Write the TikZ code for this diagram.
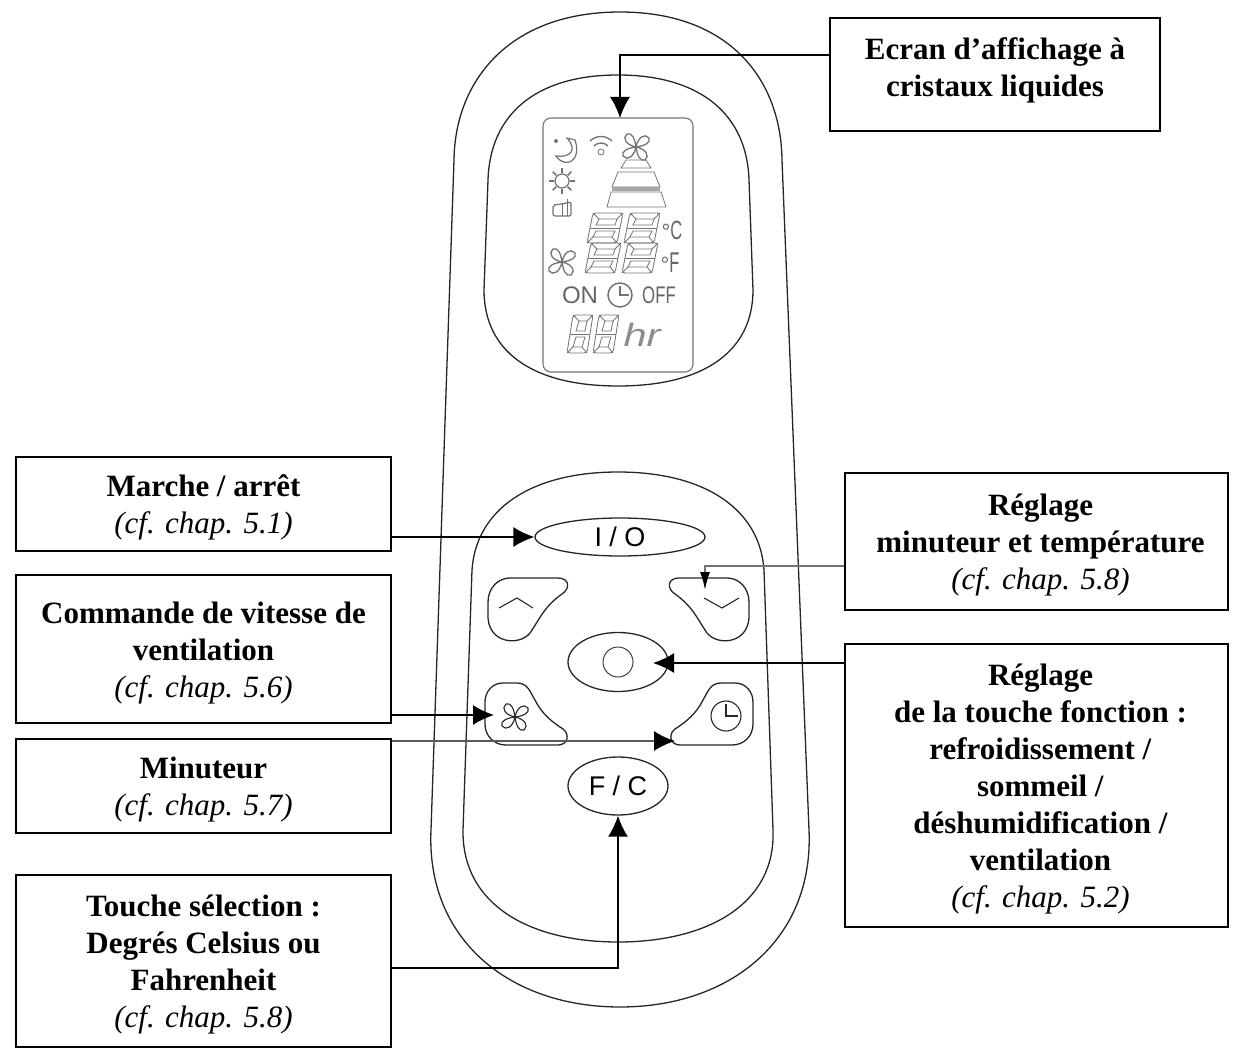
\documentclass[tikz,border=0pt]{standalone}
\usepackage{fontspec}
\setmainfont{Liberation Serif}
\newfontfamily\keyfont{Liberation Sans}
\usetikzlibrary{arrows.meta,shapes.geometric}
\newcommand{\rline}{\hspace*{8pt}}
\newcommand{\topline}{\rule{0pt}{29pt}}
\tikzset{
	>=latex,
	x=1pt,
	y=-1pt,
	shell/.style = {draw=black!85, line width=1.3pt},
	labelbox/.style = {
			draw,
			line width=1.2pt,
			inner sep=0pt,
			align=center,
			font=\fontsize{31}{37}\selectfont,
		},
	keyoval/.style = {
			ellipse,
			draw=black!85,
			line width=1.3pt,
			inner sep=0pt,
			font=\keyfont\fontsize{27}{27}\selectfont,
		},
	conn/.style = {line width=1.6pt, -{Latex[length=21pt,width=20pt,black]}},
	thinconn/.style = {draw=black!55, line width=1.6pt, -{Latex[length=18pt,width=10pt,black]}},
	lcd/.style = {draw=black!55, line width=0.8pt},
	lcdtext/.style = {text=black!60, inner sep=0pt, font=\keyfont\fontsize{24}{24}\selectfont},
	pics/fan/.style = {
			code = {
				\foreach \a in {0,90,180,270} {
					\draw[rotate=\a, pic actions] (0,0) .. controls (2,-10) and (9,-14) .. (13,-9) .. controls (15,-4) and (8,-1) .. (0,0);
				}
			}
		},
	pics/arrowkey/.style = {
			code = {
				\draw[pic actions] (510,578) -- (558,578) .. controls (569,578) and (571,588) .. (562,594)
				.. controls (545,606) and (540,618) .. (532,630) .. controls (524,646) and (490,646) .. (488,618)
				-- (488,602) .. controls (488,588) and (498,578) .. (510,578) -- cycle;
			}
		},
	pics/sidekey/.style = {
			code = {
				\draw[pic actions] (503,683) -- (517,683) .. controls (528,683) and (530,692) .. (535,700)
				.. controls (542,714) and (552,722) .. (563,729) .. controls (570,734) and (568,745) .. (558,745)
				-- (506,745) .. controls (494,745) and (485,736) .. (485,724)
				-- (485,702) .. controls (485,692) and (492,683) .. (503,683) -- cycle;
			}
		},
}
\newcommand{\lcddigit}[4]{
	\draw[lcd, rounded corners=3pt] (#1+3,#2) -- (#1+#3+3,#2) -- (#1+#3-3,#2+#4) -- (#1-3,#2+#4) -- cycle;
	\draw[lcd] (#1+9,#2+6) -- (#1+#3-3,#2+6) -- (#1+#3-5,#2+#4/2-3) -- (#1+6,#2+#4/2-3) -- cycle;
	\draw[lcd] (#1+6,#2+#4/2+3) -- (#1+#3-5,#2+#4/2+3) -- (#1+#3-8,#2+#4-6) -- (#1+3,#2+#4-6) -- cycle;
	\draw[lcd] (#1,#2+#4/2) -- (#1+#3,#2+#4/2);
	\draw[lcd] (#1+3,#2) -- (#1+9,#2+6) (#1+#3+3,#2) -- (#1+#3-3,#2+6);
	\draw[lcd] (#1-3,#2+#4) -- (#1+3,#2+#4-6) (#1+#3-3,#2+#4) -- (#1+#3-8,#2+#4-6);
}

\begin{document}
\begin{tikzpicture}
	\useasboundingbox (0,0) rectangle (1248,1054);

	% body of the remote
	\draw[shell] (620,12) .. controls (510,12) and (455,80) .. (454,160) -- (431,830)
	.. controls (426,940) and (510,1007) .. (620,1007) .. controls (730,1007) and (814,940) .. (809,830)
	-- (782,160) .. controls (781,80) and (730,12) .. (620,12) -- cycle;
	\draw[shell] (618,75) .. controls (535,75) and (490,115) .. (488,180) -- (484,290)
	.. controls (484,350) and (530,386) .. (618,386) .. controls (706,386) and (753,350) .. (753,290)
	-- (749,180) .. controls (747,115) and (701,75) .. (618,75) -- cycle;
	\draw[shell] (618,472) .. controls (530,472) and (476,510) .. (472,570) -- (463,830)
	.. controls (462,905) and (530,942) .. (618,942) .. controls (706,942) and (776,905) .. (773,830)
	-- (764,570) .. controls (760,510) and (706,472) .. (618,472) -- cycle;

	% screen
	\draw[lcd, line width=1.1pt, rounded corners=8pt] (543,118) rectangle (693,372);
	\coordinate (lcdtop) at (620,118);
	\draw[lcd, line width=1.2pt] (567,138) .. controls (578,150) and (570,158) .. (556,156) .. controls (566,170) and (582,160) .. (575,140) -- cycle;
	\fill[black!55] (556,141) circle (2pt);
	\draw[lcd, line width=1.4pt] (590,141) .. controls (596,135) and (606,135) .. (612,141) (594,146) .. controls (598,142) and (604,142) .. (608,146);
	\draw[lcd] (601,152) circle (3pt);
	\pic[lcd, line width=1.3pt] at (636,147) {fan};
	\pic[lcd, line width=1.3pt] at (562,262) {fan};
	\draw[lcd] (626,160) -- (646,160) -- (651,168) -- (621,168) -- cycle;
	\draw[lcd] (618,172) -- (654,172) -- (660,187) -- (612,187) -- cycle;
	\fill[black!35] (612,187) rectangle (660,191);
	\draw[lcd] (611,192) -- (661,192) -- (666,207) -- (607,207) -- cycle;
	\draw[lcd, line width=1.2pt] (562,181) circle (7pt);
	\foreach \a in {0,45,...,315} {
		\draw[lcd, line width=1.6pt] (562,181) ++(\a:-8) -- ++(\a:-5);
	}
	\draw[lcd, line width=1.2pt, rounded corners=2pt] (553,216) -- (553,205) -- (562,204) -- (571,202) -- (571,216) -- cycle;
	\draw[lcd] (562,204) -- (562,216) (567,199) -- (567,216);
	\lcddigit{590}{213}{30}{30}
	\lcddigit{588}{243}{30}{30}
	\lcddigit{627}{213}{30}{30}
	\lcddigit{625}{243}{30}{30}
	\node[lcdtext, font=\keyfont\fontsize{22}{22}\selectfont] (degc) at (672,230) {°\scalebox{.75}[1.2]{C}};
	\node[lcdtext, font=\keyfont\fontsize{22}{22}\selectfont] (degf) at (670,263) {°\scalebox{.75}[1.3]{F}};
	\node[lcdtext] (on) at (580,295) {ON};
	\node[lcdtext] (off) at (659,295) {\scalebox{.7}[1]{OFF}};
	\draw[lcd, line width=1.5pt] (620,295) circle (12pt);
	\draw[lcd, line width=1.5pt] (620,286) -- (620,295) -- (629,295);
	\lcddigit{570}{315}{20}{38}
	\lcddigit{596}{315}{20}{38}
	\node[lcdtext, text=black!45, font=\keyfont\itshape\fontsize{32}{32}\selectfont] (hr) at (642,335) {\scalebox{1.3}[1]{hr}};

	% keys
	\node[keyoval, minimum width=170pt, minimum height=38pt] (onoff) at (620,537) {I / O};
	\node[keyoval, minimum width=100pt, minimum height=59pt] (mode) at (618,662) {};
	\node[keyoval, minimum width=100pt, minimum height=58pt] (scale) at (618,786) {F / C};
	\draw[lcd, draw=black!75, line width=1pt] (mode.center) circle (15pt);
	\pic[shell] {arrowkey};
	\pic[shell, xscale=-1] at (1237,0) {arrowkey};
	\pic[shell] {sidekey};
	\pic[shell, xscale=-1] at (1238,0) {sidekey};
	\draw[black!85, line width=1.1pt] (499,608) -- (517,598) -- (533,608);
	\draw[black!85, line width=1.1pt] (704,598) -- (722,608) -- (739,598);
	\pic[draw=black!85, line width=1.1pt] at (515,717) {fan};
	\draw[black!85, line width=1.1pt] (726,716) circle (15pt);
	\draw[black!85, line width=1.1pt] (726,704) -- (726,716) -- (738,716);
	\coordinate (upkey) at (705,590);
	\coordinate (fankey) at (494,715);
	\coordinate (timerkey) at (675,741);
	\coordinate (modekey) at (653,663);

	% text boxes
	\node[labelbox, minimum width=330pt, minimum height=113pt] (screen) at (995,74.5) {\textbf{Ecran d’affichage à}\\\textbf{cristaux liquides}\\[-23pt]};
	\node[labelbox, minimum width=375pt, minimum height=94pt] (onoffbox) at (203.5,504) {\topline\textbf{Marche / arrêt}\\\textit{(cf. chap. 5.1)}};
	\node[labelbox, minimum width=375pt, minimum height=148pt] (fanbox) at (203.5,649) {\topline\textbf{Commande de vitesse de}\\\textbf{ventilation}\\\textit{(cf. chap. 5.6)}};
	\node[labelbox, minimum width=375pt, minimum height=94pt] (timerbox) at (203.5,786) {\topline\textbf{Minuteur}\\\textit{(cf. chap. 5.7)}};
	\node[labelbox, minimum width=375pt, minimum height=172pt] (scalebox) at (203.5,961) {\topline\textbf{Touche sélection :}\\\textbf{Degrés Celsius ou}\\\textbf{Fahrenheit}\\\textit{(cf. chap. 5.8)}};
	\node[labelbox, minimum width=383pt, minimum height=137pt] (setbox) at (1036.5,541.5) {\topline\rline\textbf{Réglage}\\\rline\textbf{minuteur et température}\\\rline\textit{(cf. chap. 5.8)}};
	\node[labelbox, minimum width=383pt, minimum height=283pt] (modebox) at (1036.5,785.5) {\topline\rline\textbf{Réglage}\\\rline\textbf{de la touche fonction :}\\\rline\textbf{refroidissement /}\\\rline\textbf{sommeil /}\\\rline\textbf{déshumidification /}\\\rline\textbf{ventilation}\\\rline\textit{(cf. chap. 5.2)}};

	% connectors
	\draw[conn] ([yshift=19.5pt]screen.west) -| (lcdtop);
	\draw[conn] (onoffbox.east |- onoff.west) -- (onoff.west);
	\draw[conn] (fanbox.east |- fankey) -- (fankey);
	\draw[conn, draw=black!65] (timerbox.east |- timerkey) -- (timerkey);
	\draw[conn] ([yshift=-7pt]scalebox.east) -| (scale.south);
	\draw[thinconn] ([yshift=-24.5pt]setbox.west) -| (upkey);
	\draw[conn] (modebox.north west |- modekey) -- (modekey);
\end{tikzpicture}
\end{document}
